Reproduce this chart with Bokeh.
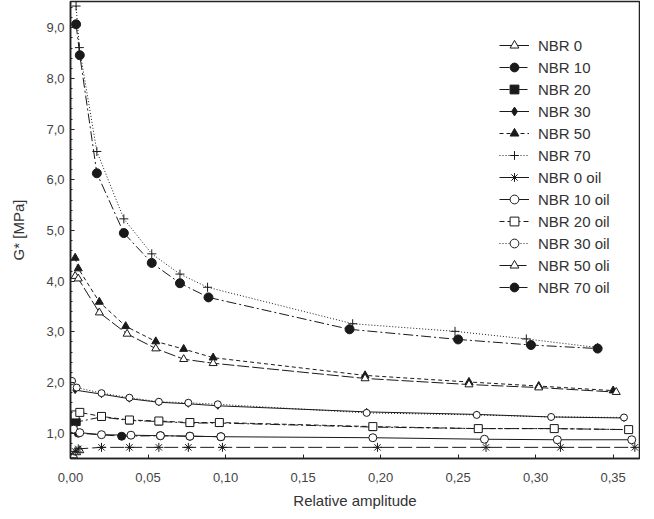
from bokeh.plotting import figure
from bokeh.models import CustomJSTickFormatter, FixedTicker, Range1d, Legend
from bokeh.embed import file_html
from bokeh.resources import INLINE

# ---- data ----
nbr0_x = [0.002, 0.004, 0.006]
nbr0_y = [0.56, 0.62, 0.66]

nbr10_x = [0.002, 0.005, 0.033, 0.058, 0.077, 0.097]
nbr10_y = [1.17, 1.00, 0.94, 0.95, 0.94, 0.93]

nbr20_x = [0.002, 0.004, 0.020, 0.038, 0.057, 0.077, 0.096, 0.195, 0.263, 0.312, 0.360]
nbr20_y = [1.26, 1.22, 1.32, 1.25, 1.23, 1.20, 1.20, 1.12, 1.09, 1.09, 1.07]

nbr30_x = [0.003, 0.020, 0.038, 0.057, 0.076, 0.095, 0.191, 0.262, 0.310, 0.357]
nbr30_y = [1.85, 1.77, 1.68, 1.61, 1.58, 1.54, 1.42, 1.37, 1.32, 1.30]

nbr50_x = [0.003, 0.005, 0.0186, 0.0356, 0.055, 0.073, 0.092, 0.190, 0.257, 0.302, 0.350]
nbr50_y = [4.46, 4.25, 3.59, 3.11, 2.81, 2.66, 2.49, 2.14, 2.01, 1.93, 1.84]

nbr70_x = [0.0036, 0.0057, 0.017, 0.0344, 0.0524, 0.0706, 0.0884, 0.182, 0.248, 0.294, 0.340]
nbr70_y = [9.43, 8.61, 6.56, 5.23, 4.54, 4.14, 3.88, 3.16, 3.01, 2.86, 2.69]

nbr0oil_x = [0.003, 0.005, 0.020, 0.038, 0.057, 0.076, 0.098, 0.198, 0.268, 0.316, 0.364]
nbr0oil_y = [0.64, 0.69, 0.72, 0.72, 0.72, 0.72, 0.72, 0.72, 0.72, 0.72, 0.72]

nbr10oil_x = [0.002, 0.006, 0.020, 0.039, 0.058, 0.077, 0.097, 0.195, 0.267, 0.314, 0.362]
nbr10oil_y = [1.08, 1.01, 0.97, 0.96, 0.95, 0.94, 0.93, 0.91, 0.88, 0.87, 0.87]

nbr20oil_x = [0.003, 0.006, 0.020, 0.038, 0.057, 0.077, 0.096, 0.195, 0.263, 0.312, 0.360]
nbr20oil_y = [1.36, 1.41, 1.33, 1.26, 1.24, 1.21, 1.21, 1.13, 1.09, 1.09, 1.07]

nbr30oil_x = [0.001, 0.004, 0.020, 0.038, 0.057, 0.076, 0.095, 0.191, 0.262, 0.310, 0.357]
nbr30oil_y = [2.03, 1.90, 1.79, 1.70, 1.62, 1.60, 1.57, 1.40, 1.36, 1.32, 1.31]

nbr50oli_x = [0.003, 0.005, 0.0186, 0.0365, 0.055, 0.073, 0.092, 0.190, 0.257, 0.302, 0.352]
nbr50oli_y = [4.10, 4.05, 3.38, 2.96, 2.67, 2.46, 2.38, 2.08, 1.96, 1.90, 1.81]

nbr70oil_x = [0.0036, 0.006, 0.017, 0.0344, 0.0524, 0.0706, 0.089, 0.180, 0.250, 0.297, 0.340]
nbr70oil_y = [9.07, 8.46, 6.13, 4.95, 4.36, 3.96, 3.68, 3.05, 2.85, 2.74, 2.67]

series_names = ["NBR 0", "NBR 10", "NBR 20", "NBR 30", "NBR 50", "NBR 70",
                "NBR 0 oil", "NBR 10 oil", "NBR 20 oil", "NBR 30 oil", "NBR 50 oli", "NBR 70 oil"]
series_x = [nbr0_x, nbr10_x, nbr20_x, nbr30_x, nbr50_x, nbr70_x,
            nbr0oil_x, nbr10oil_x, nbr20oil_x, nbr30oil_x, nbr50oli_x, nbr70oil_x]
series_y = [nbr0_y, nbr10_y, nbr20_y, nbr30_y, nbr50_y, nbr70_y,
            nbr0oil_y, nbr10oil_y, nbr20oil_y, nbr30oil_y, nbr50oli_y, nbr70oil_y]

x_ticks = [0.0, 0.05, 0.10, 0.15, 0.20, 0.25, 0.30, 0.35]
y_ticks = [1, 2, 3, 4, 5, 6, 7, 8, 9]

# ---- styles ----
INK = "#1a1a1a"
styles = [
    dict(marker="triangle", fill="white", size=8, dash="solid"),       # NBR 0
    dict(marker="circle", fill=INK, size=8, dash="10 3 2 3"),          # NBR 10
    dict(marker="square", fill=INK, size=7, dash="10 3 2 3"),          # NBR 20
    dict(marker="diamond", fill=INK, size=7, dash="solid"),            # NBR 30
    dict(marker="triangle", fill=INK, size=8, dash="4 3"),             # NBR 50
    dict(marker="cross", fill=INK, size=9, dash="1 2"),                # NBR 70
    dict(marker="asterisk", fill=INK, size=9, dash="14 4"),            # NBR 0 oil
    dict(marker="circle", fill="white", size=8, dash="solid"),         # NBR 10 oil
    dict(marker="square", fill="white", size=8, dash="5 3"),           # NBR 20 oil
    dict(marker="circle", fill="white", size=7, dash="1 2"),           # NBR 30 oil
    dict(marker="triangle", fill="white", size=8, dash="12 3"),        # NBR 50 oli
    dict(marker="circle", fill=INK, size=9, dash="10 3 2 3"),          # NBR 70 oil
]

p = figure(width=640, height=511, output_backend="svg", toolbar_location=None,
           x_range=Range1d(0.0, 0.367), y_range=Range1d(0.5, 9.52),
           min_border_left=70, min_border_right=1, min_border_top=1, min_border_bottom=50)
p.background_fill_color = "white"
p.border_fill_color = "white"
p.outline_line_color = "#222222"
p.outline_line_width = 1.5
p.xgrid.visible = False
p.ygrid.visible = False

items = []
for name, xs, ys, st in zip(series_names, series_x, series_y, styles):
    r1 = p.line(xs, ys, line_color=INK, line_width=1, line_dash=st["dash"])
    r2 = p.scatter(xs, ys, marker=st["marker"], size=st["size"], line_color=INK,
                   fill_color=st["fill"], line_width=1)
    items.append((name, [r1, r2]))

legend = Legend(items=items, location=(429, 160))
legend.border_line_color = None
legend.background_fill_alpha = 0
legend.padding = 0
legend.margin = 0
legend.spacing = 0
legend.label_height = 22
legend.glyph_height = 22
legend.glyph_width = 30
legend.label_standoff = 9
legend.label_text_font = "Liberation Sans"
legend.label_text_font_size = "15px"
legend.label_text_color = "#333333"
p.add_layout(legend, "center")

for ax in (p.xaxis[0], p.yaxis[0]):
    ax.axis_line_color = "#222222"
    ax.axis_line_width = 1.5
    ax.major_tick_in = 4
    ax.major_tick_out = 0
    ax.minor_tick_in = 2
    ax.minor_tick_out = 0
    ax.major_tick_line_color = "#222222"
    ax.minor_tick_line_color = "#222222"
    ax.major_label_text_font = "Liberation Sans"
    ax.major_label_text_font_size = "13px"
    ax.major_label_text_color = "#444444"
    ax.axis_label_text_font = "Liberation Sans"
    ax.axis_label_text_font_size = "15px"
    ax.axis_label_text_font_style = "normal"
    ax.axis_label_text_color = "#333333"

p.xaxis.ticker = FixedTicker(ticks=x_ticks)
p.yaxis.ticker = FixedTicker(ticks=y_ticks,
                             minor_ticks=[1 + 0.2 * i for i in range(-2, 43)])
p.xaxis.formatter = CustomJSTickFormatter(code="return tick.toFixed(2).replace('.', ',');")
p.yaxis.formatter = CustomJSTickFormatter(code="return tick.toFixed(1).replace('.', ',');")
p.xaxis.axis_label = "Relative amplitude"
p.yaxis.axis_label = "G* [MPa]"
p.xaxis.major_label_standoff = 14
p.yaxis.major_label_standoff = 6
p.xaxis.axis_label_standoff = 7
p.yaxis.axis_label_standoff = 16

open("out.html", "w").write(file_html(p, INLINE))
